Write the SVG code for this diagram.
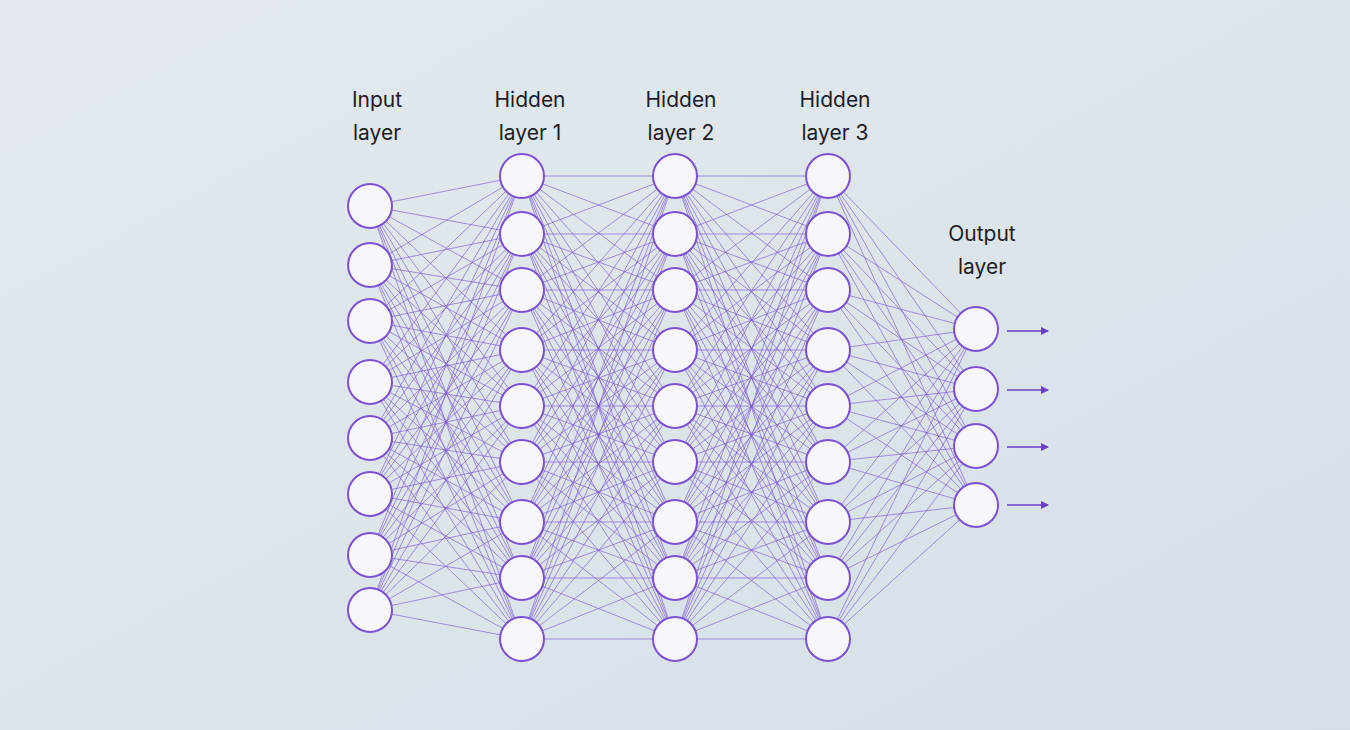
<svg xmlns="http://www.w3.org/2000/svg" width="1350" height="730" viewBox="0 0 1350 730">
<defs>
<linearGradient id="bg" x1="0" y1="0" x2="1" y2="1">
<stop offset="0" stop-color="#e3e9ee"/><stop offset="0.5" stop-color="#dde5eb"/><stop offset="1" stop-color="#d6dfe7"/>
</linearGradient>
<marker id="ah" markerWidth="8" markerHeight="8" refX="7" refY="4" orient="auto" markerUnits="userSpaceOnUse"><path d="M0 0L8 4L0 8z" fill="#6a3fc4"/></marker>
<style>
.n{fill:#f7f6fc;stroke:#7b52d3;stroke-width:2}
.e{fill:none;stroke:#7a55d6;stroke-width:0.9;stroke-opacity:0.7}
.t{font-family:"Inter","Liberation Sans",sans-serif;font-size:21px;fill:#1d1d28;text-anchor:middle}
.a{stroke:#6a3fc4;stroke-width:1.6}
</style>
</defs>
<rect width="1350" height="730" fill="url(#bg)"/>
<g id="connectors">
<path class="e" d="M522 176L370 206L522 234M370 206L522 290M370 206L522 350M370 206L522 406M370 206L522 462M370 206L522 522M370 206L522 578M370 206L522 639
M522 176L370 265L522 234M370 265L522 290M370 265L522 350M370 265L522 406M370 265L522 462M370 265L522 522M370 265L522 578M370 265L522 639
M522 176L370 321L522 234M370 321L522 290M370 321L522 350M370 321L522 406M370 321L522 462M370 321L522 522M370 321L522 578M370 321L522 639
M522 176L370 382L522 234M370 382L522 290M370 382L522 350M370 382L522 406M370 382L522 462M370 382L522 522M370 382L522 578M370 382L522 639
M522 176L370 438L522 234M370 438L522 290M370 438L522 350M370 438L522 406M370 438L522 462M370 438L522 522M370 438L522 578M370 438L522 639
M522 176L370 494L522 234M370 494L522 290M370 494L522 350M370 494L522 406M370 494L522 462M370 494L522 522M370 494L522 578M370 494L522 639
M522 176L370 555L522 234M370 555L522 290M370 555L522 350M370 555L522 406M370 555L522 462M370 555L522 522M370 555L522 578M370 555L522 639
M522 176L370 610L522 234M370 610L522 290M370 610L522 350M370 610L522 406M370 610L522 462M370 610L522 522M370 610L522 578M370 610L522 639"/>
<path class="e" d="M675 176L522 176L675 234M522 176L675 290M522 176L675 350M522 176L675 406M522 176L675 462M522 176L675 522M522 176L675 578M522 176L675 639
M675 176L522 234L675 234M522 234L675 290M522 234L675 350M522 234L675 406M522 234L675 462M522 234L675 522M522 234L675 578M522 234L675 639
M675 176L522 290L675 234M522 290L675 290M522 290L675 350M522 290L675 406M522 290L675 462M522 290L675 522M522 290L675 578M522 290L675 639
M675 176L522 350L675 234M522 350L675 290M522 350L675 350M522 350L675 406M522 350L675 462M522 350L675 522M522 350L675 578M522 350L675 639
M675 176L522 406L675 234M522 406L675 290M522 406L675 350M522 406L675 406M522 406L675 462M522 406L675 522M522 406L675 578M522 406L675 639
M675 176L522 462L675 234M522 462L675 290M522 462L675 350M522 462L675 406M522 462L675 462M522 462L675 522M522 462L675 578M522 462L675 639
M675 176L522 522L675 234M522 522L675 290M522 522L675 350M522 522L675 406M522 522L675 462M522 522L675 522M522 522L675 578M522 522L675 639
M675 176L522 578L675 234M522 578L675 290M522 578L675 350M522 578L675 406M522 578L675 462M522 578L675 522M522 578L675 578M522 578L675 639
M675 176L522 639L675 234M522 639L675 290M522 639L675 350M522 639L675 406M522 639L675 462M522 639L675 522M522 639L675 578M522 639L675 639"/>
<path class="e" d="M828 176L675 176L828 234M675 176L828 290M675 176L828 350M675 176L828 406M675 176L828 462M675 176L828 522M675 176L828 578M675 176L828 639
M828 176L675 234L828 234M675 234L828 290M675 234L828 350M675 234L828 406M675 234L828 462M675 234L828 522M675 234L828 578M675 234L828 639
M828 176L675 290L828 234M675 290L828 290M675 290L828 350M675 290L828 406M675 290L828 462M675 290L828 522M675 290L828 578M675 290L828 639
M828 176L675 350L828 234M675 350L828 290M675 350L828 350M675 350L828 406M675 350L828 462M675 350L828 522M675 350L828 578M675 350L828 639
M828 176L675 406L828 234M675 406L828 290M675 406L828 350M675 406L828 406M675 406L828 462M675 406L828 522M675 406L828 578M675 406L828 639
M828 176L675 462L828 234M675 462L828 290M675 462L828 350M675 462L828 406M675 462L828 462M675 462L828 522M675 462L828 578M675 462L828 639
M828 176L675 522L828 234M675 522L828 290M675 522L828 350M675 522L828 406M675 522L828 462M675 522L828 522M675 522L828 578M675 522L828 639
M828 176L675 578L828 234M675 578L828 290M675 578L828 350M675 578L828 406M675 578L828 462M675 578L828 522M675 578L828 578M675 578L828 639
M828 176L675 639L828 234M675 639L828 290M675 639L828 350M675 639L828 406M675 639L828 462M675 639L828 522M675 639L828 578M675 639L828 639"/>
<path class="e" d="M828 176L976 329M828 176L976 389M828 176L976 446M828 176L976 505
M828 234L976 329M828 234L976 389M828 234L976 446M828 234L976 505
M828 290L976 329M828 290L976 389M828 290L976 446M828 290L976 505
M828 350L976 329M828 350L976 389M828 350L976 446M828 350L976 505
M828 406L976 329M828 406L976 389M828 406L976 446M828 406L976 505
M828 462L976 329M828 462L976 389M828 462L976 446M828 462L976 505
M828 522L976 329M828 522L976 389M828 522L976 446M828 522L976 505
M828 578L976 329M828 578L976 389M828 578L976 446M828 578L976 505
M828 639L976 329M828 639L976 389M828 639L976 446M828 639L976 505"/>
<line class="a" x1="1007" y1="331" x2="1048" y2="331" marker-end="url(#ah)"/>
<line class="a" x1="1007" y1="390" x2="1048" y2="390" marker-end="url(#ah)"/>
<line class="a" x1="1007" y1="447" x2="1048" y2="447" marker-end="url(#ah)"/>
<line class="a" x1="1007" y1="505" x2="1048" y2="505" marker-end="url(#ah)"/>
</g>
<g id="input-layer">
<text class="t" x="377" y="107">Input</text><text class="t" x="377" y="140">layer</text>
<circle class="n" cx="370" cy="206" r="22"/><circle class="n" cx="370" cy="265" r="22"/><circle class="n" cx="370" cy="321" r="22"/><circle class="n" cx="370" cy="382" r="22"/><circle class="n" cx="370" cy="438" r="22"/><circle class="n" cx="370" cy="494" r="22"/><circle class="n" cx="370" cy="555" r="22"/><circle class="n" cx="370" cy="610" r="22"/>
</g>
<g id="hidden-layer-1">
<text class="t" x="530" y="107">Hidden</text><text class="t" x="530" y="140">layer 1</text>
<circle class="n" cx="522" cy="176" r="22"/><circle class="n" cx="522" cy="234" r="22"/><circle class="n" cx="522" cy="290" r="22"/><circle class="n" cx="522" cy="350" r="22"/><circle class="n" cx="522" cy="406" r="22"/><circle class="n" cx="522" cy="462" r="22"/><circle class="n" cx="522" cy="522" r="22"/><circle class="n" cx="522" cy="578" r="22"/><circle class="n" cx="522" cy="639" r="22"/>
</g>
<g id="hidden-layer-2">
<text class="t" x="681" y="107">Hidden</text><text class="t" x="681" y="140">layer 2</text>
<circle class="n" cx="675" cy="176" r="22"/><circle class="n" cx="675" cy="234" r="22"/><circle class="n" cx="675" cy="290" r="22"/><circle class="n" cx="675" cy="350" r="22"/><circle class="n" cx="675" cy="406" r="22"/><circle class="n" cx="675" cy="462" r="22"/><circle class="n" cx="675" cy="522" r="22"/><circle class="n" cx="675" cy="578" r="22"/><circle class="n" cx="675" cy="639" r="22"/>
</g>
<g id="hidden-layer-3">
<text class="t" x="835" y="107">Hidden</text><text class="t" x="835" y="140">layer 3</text>
<circle class="n" cx="828" cy="176" r="22"/><circle class="n" cx="828" cy="234" r="22"/><circle class="n" cx="828" cy="290" r="22"/><circle class="n" cx="828" cy="350" r="22"/><circle class="n" cx="828" cy="406" r="22"/><circle class="n" cx="828" cy="462" r="22"/><circle class="n" cx="828" cy="522" r="22"/><circle class="n" cx="828" cy="578" r="22"/><circle class="n" cx="828" cy="639" r="22"/>
</g>
<g id="output-layer">
<text class="t" x="982" y="241">Output</text><text class="t" x="982" y="274">layer</text>
<circle class="n" cx="976" cy="329" r="22"/><circle class="n" cx="976" cy="389" r="22"/><circle class="n" cx="976" cy="446" r="22"/><circle class="n" cx="976" cy="505" r="22"/>
</g>
</svg>
